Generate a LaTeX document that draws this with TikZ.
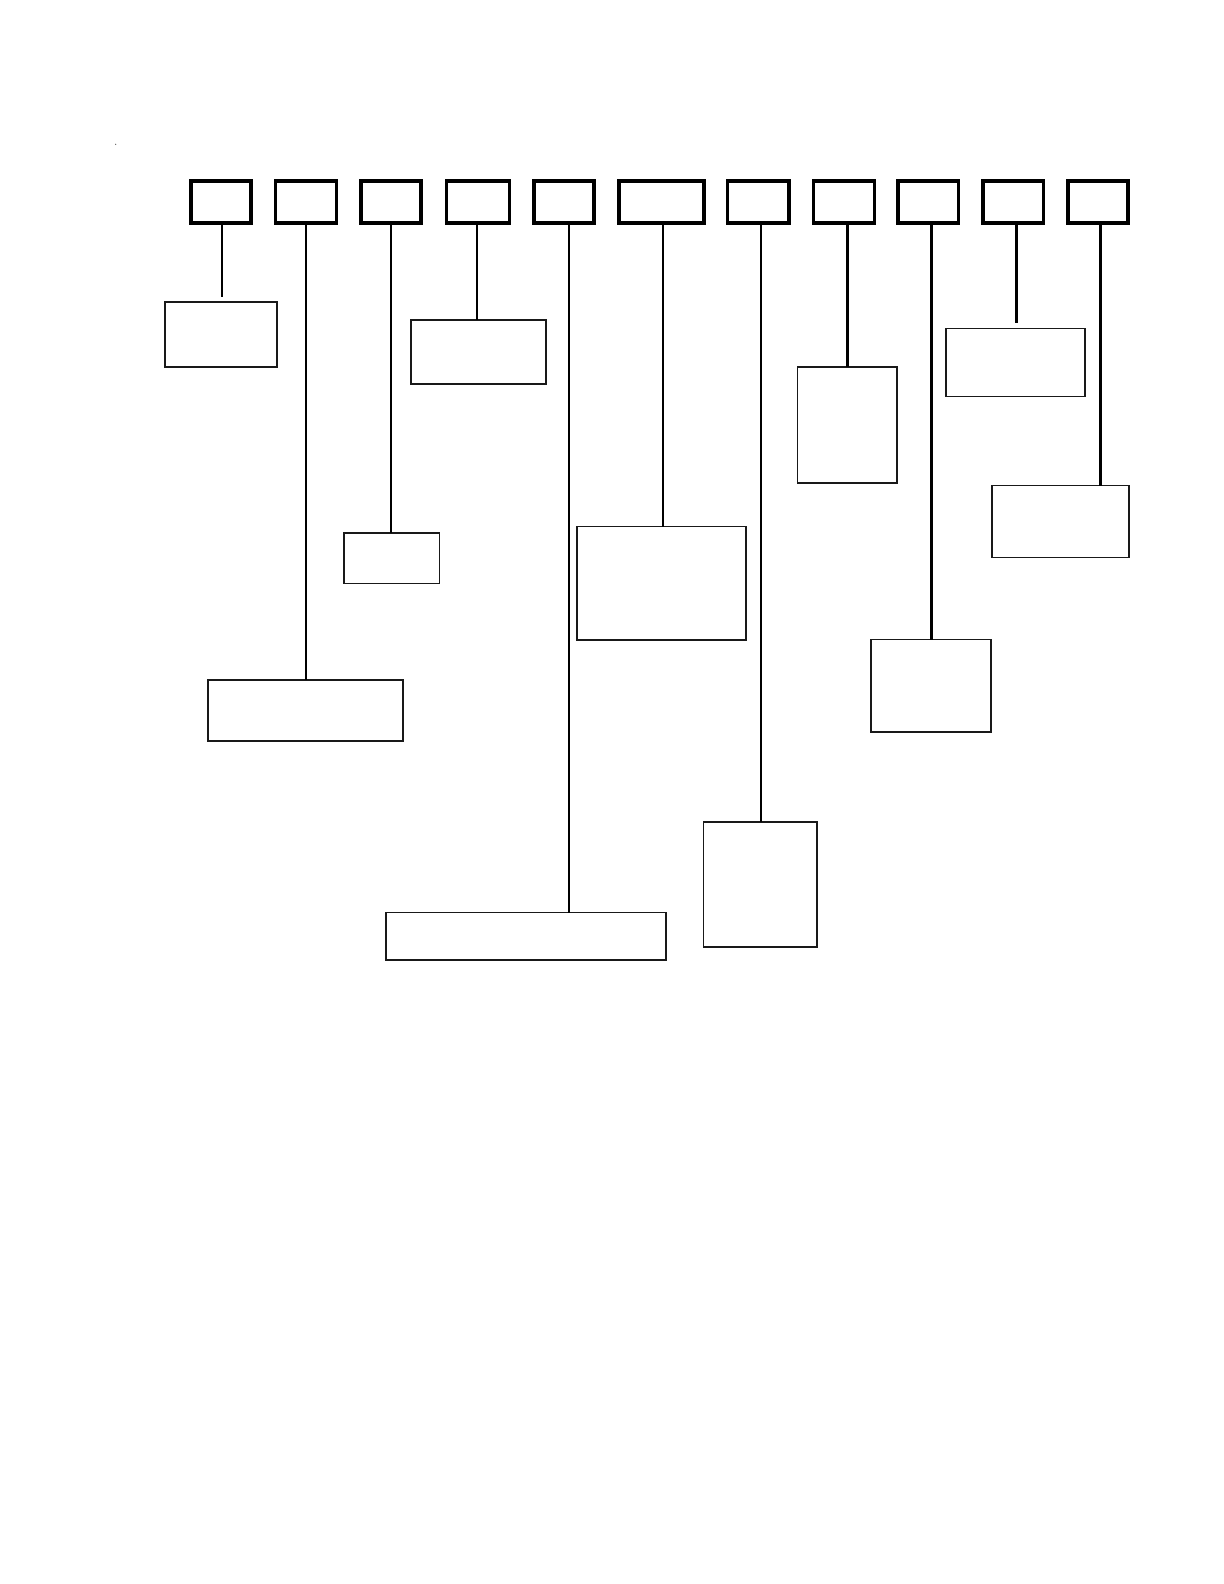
\documentclass[tikz,border=0pt]{standalone}
\begin{document}
\begin{tikzpicture}[x=0.5bp,y=-0.5bp,
  topbox/.style={draw=black, line width=1.65bp, inner sep=0pt, outer sep=0pt, minimum height=21bp},
  leafbox/.style={draw=black!90, line width=0.85bp, inner sep=0pt, outer sep=0pt},
  thinlink/.style={draw=black, line width=1bp},
  thicklink/.style={draw=black, line width=1.5bp}]
\useasboundingbox (0,0) rectangle (1224,1584);
\fill[black!60] (115.7,144.3) circle (0.35bp);
% top row
\node[topbox, minimum width=30bp]   (t1)  at (221,202) {};
\node[topbox, minimum width=30.3bp] (t2)  at (306,202) {};
\node[topbox, minimum width=30bp]   (t3)  at (391,202) {};
\node[topbox, minimum width=31.3bp] (t4)  at (478,202) {};
\node[topbox, minimum width=30bp]   (t5)  at (564,202) {};
\node[topbox, minimum width=42.5bp] (t6)  at (661.5,202) {};
\node[topbox, minimum width=30.7bp] (t7)  at (758.3,202) {};
\node[topbox, minimum width=30.2bp] (t8)  at (844,202) {};
\node[topbox, minimum width=30.3bp] (t9)  at (928.4,202) {};
\node[topbox, minimum width=30.3bp] (t10) at (1013.4,202) {};
\node[topbox, minimum width=30bp]   (t11) at (1098,202) {};
% lower boxes
\node[leafbox, minimum width=55.7bp, minimum height=32.5bp]  (a) at (221,334.8) {};
\node[leafbox, minimum width=67.5bp, minimum height=32bp]    (b) at (478.7,352.2) {};
\node[leafbox, minimum width=47.6bp, minimum height=25.3bp]  (c) at (391.8,558.2) {};
\node[leafbox, minimum width=84.7bp, minimum height=56.8bp]  (d) at (661.4,583.4) {};
\node[leafbox, minimum width=69.5bp, minimum height=33.9bp]  (e) at (1015.5,362.5) {};
\node[leafbox, minimum width=49.6bp, minimum height=58bp]    (f) at (847.2,424.9) {};
\node[leafbox, minimum width=68.5bp, minimum height=35.9bp]  (g) at (1060.5,521.5) {};
\node[leafbox, minimum width=60bp,   minimum height=46.1bp]  (h) at (930.9,685.7) {};
\node[leafbox, minimum width=97.3bp, minimum height=30.5bp]  (i) at (305.5,710.7) {};
\node[leafbox, minimum width=140.1bp,minimum height=23.6bp]  (j) at (526,936.2) {};
\node[leafbox, minimum width=56.6bp, minimum height=62.5bp]  (k) at (760.2,884.4) {};
% connector columns
\coordinate (x1) at (221.7,0);
\coordinate (x2) at (305.7,0);
\coordinate (x3) at (391,0);
\coordinate (x4) at (477,0);
\coordinate (x5) at (569,0);
\coordinate (x6) at (662.6,0);
\coordinate (x7) at (760.7,0);
\coordinate (x8) at (847,0);
\coordinate (x9) at (931,0);
\coordinate (x10) at (1016.4,0);
\coordinate (x11) at (1100,0);
\coordinate (end1) at (221.7,296.7);
\coordinate (end10) at (1016.4,322.7);
% connectors
\draw[thinlink] (t1.south -| x1) -- (end1);
\draw[thinlink] (t2.south -| x2) -- (i.north -| x2);
\draw[thinlink] (t3.south -| x3) -- (c.north -| x3);
\draw[thinlink] (t4.south -| x4) -- (b.north -| x4);
\draw[thinlink] (t5.south -| x5) -- (j.north -| x5);
\draw[thinlink] (t6.south -| x6) -- (d.north -| x6);
\draw[thinlink] (t7.south -| x7) -- (k.north -| x7);
\draw[thicklink] (t8.south -| x8) -- (f.north -| x8);
\draw[thicklink] (t9.south -| x9) -- (h.north -| x9);
\draw[thicklink] (t10.south -| x10) -- (end10);
\draw[thicklink] (t11.south -| x11) -- (g.north -| x11);
\end{tikzpicture}
\end{document}
